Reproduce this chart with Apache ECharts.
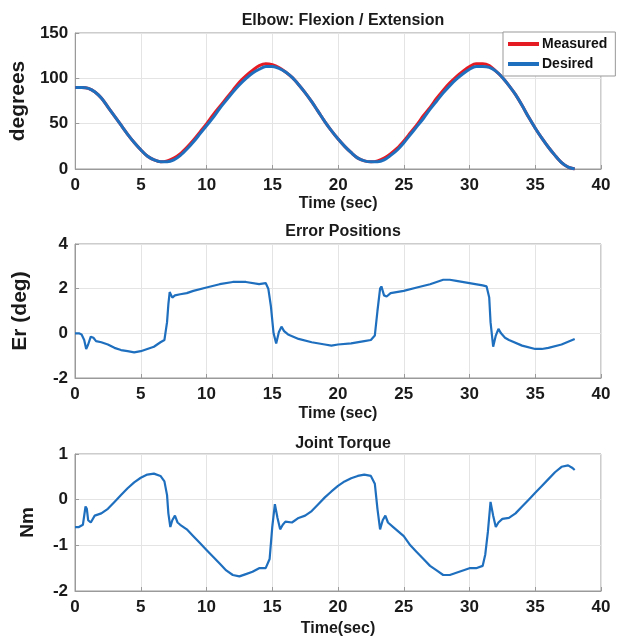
<!DOCTYPE html>
<html>
<head>
<meta charset="utf-8">
<script src="https://cdn.jsdelivr.net/npm/echarts@6/dist/echarts.min.js"></script>
<style>
html,body{margin:0;padding:0;background:#fff;}
#chart{width:624px;height:644px;}
</style>
</head>
<body>
<div id="chart"></div>
<script>
// ---- Data ----
var titles = ['Elbow: Flexion / Extension', 'Error Positions', 'Joint Torque'];
var xNames = ['Time (sec)', 'Time (sec)', 'Time(sec)'];
var yNames = ['degrees', 'Er (deg)', 'Nm'];
var seriesNames = ['Measured', 'Desired'];

var tAngle = [0,0.5,1,1.5,2,2.5,3,3.5,4,4.5,5,5.5,6,6.5,7,7.5,8,8.5,9,9.5,10,10.5,11,11.5,12,12.5,13,13.5,14,14.5,15,15.5,16,16.5,17,17.5,18,18.5,19,19.5,20,20.5,21,21.5,22,22.5,23,23.5,24,24.5,25,25.5,26,26.5,27,27.5,28,28.5,29,29.5,30,30.5,31,31.5,32,32.5,33,33.5,34,34.5,35,35.5,36,36.5,37,37.5,38];
var angleDesired = [90,90,89,85,78,68,58,48,38,29,21,14,10,8,8,10,15,22,30,39,48,57,67,76,85,93,100,106,110,113,113,111,107,101,93,84,74,63,52,42,33,25,18,12,9,8,8,10,15,21,29,38,47,56,66,75,84,92,99,105,110,113,113,112,108,101,92,82,70,57,45,34,24,15,7,2,0];
var angleMeasured = [90,90,89,85,78,68,58,48,38,29,21,14,10,8,9,12,17,24,32,41,50,60,69,78,87,96,103,109,114,116,115,112,107,101,93,84,74,63,52,42,33,25,18,12,9,8,9,12,17,23,31,40,49,59,68,78,87,95,102,108,113,116,116,114,108,101,92,82,70,57,45,34,24,15,7,2,0];

var tErr = [0,0.3,0.5,0.7,0.85,1.0,1.2,1.4,1.6,2,2.5,3,3.5,4,4.5,5,5.5,6,6.5,6.8,7.0,7.1,7.2,7.4,7.6,8,8.5,9,10,11,12,13,14,14.5,14.7,14.9,15.1,15.3,15.5,15.7,15.9,16.2,17,18,19,19.5,20,21,22,22.5,22.8,23.0,23.2,23.3,23.5,23.7,24,25,26,27,28,28.5,29,30,31,31.3,31.5,31.6,31.8,32.0,32.2,32.4,32.7,33,34,35,35.5,36,37,38];
var errPos = [0,0,-0.05,-0.3,-0.7,-0.5,-0.15,-0.2,-0.35,-0.4,-0.5,-0.65,-0.75,-0.8,-0.85,-0.8,-0.7,-0.6,-0.4,-0.3,0.5,1.3,1.85,1.6,1.7,1.75,1.8,1.9,2.05,2.2,2.3,2.3,2.2,2.25,2.0,1.2,0.0,-0.45,0.05,0.3,0.1,-0.05,-0.25,-0.4,-0.5,-0.55,-0.5,-0.45,-0.35,-0.3,-0.1,1.0,2.0,2.1,1.7,1.65,1.8,1.9,2.05,2.2,2.4,2.4,2.35,2.25,2.15,2.1,1.6,0.5,-0.6,-0.1,0.2,0.0,-0.2,-0.3,-0.55,-0.7,-0.7,-0.65,-0.5,-0.25];

var tTorque = [0,0.3,0.6,0.8,0.9,1.0,1.2,1.5,2,2.5,3,3.5,4,4.5,5,5.5,6,6.5,6.8,7.0,7.1,7.25,7.4,7.6,7.8,8,8.5,9,9.5,10,10.5,11,11.5,12,12.5,13,13.5,14,14.5,14.8,15.0,15.2,15.4,15.6,15.8,16,16.5,17,17.5,18,18.5,19,19.5,20,20.5,21,21.5,22,22.5,22.8,23.0,23.2,23.4,23.6,23.8,24.2,25,25.5,26,26.5,27,27.5,28,28.5,29,29.5,30,30.5,31,31.2,31.4,31.6,31.8,32,32.2,32.5,33,33.5,34,34.5,35,35.5,36,36.5,37,37.5,37.8,38];
var torque = [-0.6,-0.6,-0.55,-0.15,-0.2,-0.45,-0.5,-0.35,-0.3,-0.2,-0.05,0.1,0.25,0.38,0.48,0.55,0.57,0.52,0.4,0.1,-0.3,-0.6,-0.45,-0.35,-0.5,-0.55,-0.65,-0.8,-0.95,-1.1,-1.25,-1.4,-1.55,-1.65,-1.68,-1.63,-1.58,-1.5,-1.5,-1.3,-0.6,-0.1,-0.4,-0.65,-0.55,-0.48,-0.5,-0.4,-0.35,-0.25,-0.1,0.05,0.18,0.3,0.4,0.47,0.52,0.55,0.52,0.35,-0.2,-0.65,-0.45,-0.35,-0.5,-0.6,-0.8,-1.0,-1.15,-1.3,-1.45,-1.55,-1.65,-1.65,-1.6,-1.55,-1.5,-1.5,-1.45,-1.2,-0.7,-0.05,-0.35,-0.6,-0.5,-0.42,-0.4,-0.3,-0.15,0.0,0.15,0.3,0.45,0.6,0.72,0.75,0.7,0.65];

var xTicks = {min: 0, max: 40, interval: 5};
var yRanges = [{min: 0, max: 150, interval: 50}, {min: -2, max: 4, interval: 2}, {min: -2, max: 1, interval: 1}];

// ---- Helpers ----
function pairs(xs, ys) { return xs.map(function (x, i) { return [x, ys[i]]; }); }

var BLUE = '#1f6fbf';
var RED = '#e51b24';
var FONT = '"Liberation Sans", Arial, sans-serif';

var grids = [
  {left: 75, right: 23, top: 33, height: 136},
  {left: 75, right: 23, top: 244, height: 134},
  {left: 75, right: 23, top: 454, height: 137}
];
var xNameGaps = [27, 28, 30];
var yNameGaps = [44, 44, 38];
var yNameSizes = [21, 21, 19];
var titleTops = [8, 219, 431];

var option = {
  animation: false,
  backgroundColor: '#fff',
  title: titles.map(function (t, i) {
    return {text: t, left: 338, top: titleTops[i], textAlign: 'center',
      textStyle: {fontFamily: FONT, fontSize: 16, fontWeight: 'bold', color: '#1a1a1a'}};
  }),
  legend: {
    data: seriesNames,
    orient: 'vertical', left: 503, top: 32, width: 111,
    backgroundColor: '#fff', borderColor: '#999', borderWidth: 1,
    padding: [5, 8, 5, 5], itemGap: 6, itemWidth: 31, itemHeight: 4,
    icon: 'rect',
    textStyle: {fontFamily: FONT, fontSize: 14, fontWeight: 'bold', color: '#111', padding: [0, 0, 0, -2]}
  },
  grid: grids.map(function (g) {
    return Object.assign({show: true, borderColor: '#9a9a9a', borderWidth: 1, backgroundColor: '#fff'}, g);
  }),
  xAxis: [0, 1, 2].map(function (i) {
    return {
      type: 'value', gridIndex: i, min: xTicks.min, max: xTicks.max, interval: xTicks.interval,
      name: xNames[i], nameLocation: 'middle', nameGap: xNameGaps[i],
      nameTextStyle: {fontFamily: FONT, fontSize: 16, fontWeight: 'bold', color: '#1a1a1a'},
      axisLine: {show: true, onZero: false, lineStyle: {color: '#9a9a9a'}},
      axisTick: {show: true, inside: true, length: 4, lineStyle: {color: '#9a9a9a'}},
      axisLabel: {fontFamily: FONT, fontSize: 17, fontWeight: 'bold', color: '#1a1a1a', margin: 8},
      splitLine: {show: true, lineStyle: {color: '#e4e4e4', width: 1}}
    };
  }),
  yAxis: [0, 1, 2].map(function (i) {
    return {
      type: 'value', gridIndex: i, min: yRanges[i].min, max: yRanges[i].max, interval: yRanges[i].interval,
      name: yNames[i], nameLocation: 'middle', nameGap: yNameGaps[i], nameRotate: 90,
      nameTextStyle: {fontFamily: FONT, fontSize: yNameSizes[i], fontWeight: 'bold', color: '#1a1a1a'},
      axisLine: {show: true, lineStyle: {color: '#9a9a9a'}},
      axisTick: {show: true, inside: true, length: 4, lineStyle: {color: '#9a9a9a'}},
      axisLabel: {fontFamily: FONT, fontSize: 17, fontWeight: 'bold', color: '#1a1a1a', margin: 7},
      splitLine: {show: true, lineStyle: {color: '#e4e4e4', width: 1}}
    };
  }),
  series: [
    {name: seriesNames[0], type: 'line', xAxisIndex: 0, yAxisIndex: 0, symbol: 'none', smooth: 0.3,
      itemStyle: {color: RED}, lineStyle: {color: RED, width: 3}, data: pairs(tAngle, angleMeasured)},
    {name: seriesNames[1], type: 'line', xAxisIndex: 0, yAxisIndex: 0, symbol: 'none', smooth: 0.3,
      itemStyle: {color: BLUE}, lineStyle: {color: BLUE, width: 3}, data: pairs(tAngle, angleDesired)},
    {name: 'Error', type: 'line', xAxisIndex: 1, yAxisIndex: 1, symbol: 'none',
      lineStyle: {color: BLUE, width: 2.2}, data: pairs(tErr, errPos)},
    {name: 'Torque', type: 'line', xAxisIndex: 2, yAxisIndex: 2, symbol: 'none',
      lineStyle: {color: BLUE, width: 2.2}, data: pairs(tTorque, torque)}
  ]
};

var chart = echarts.init(document.getElementById('chart'), null, {renderer: 'canvas'});
chart.setOption(option);
</script>
</body>
</html>
